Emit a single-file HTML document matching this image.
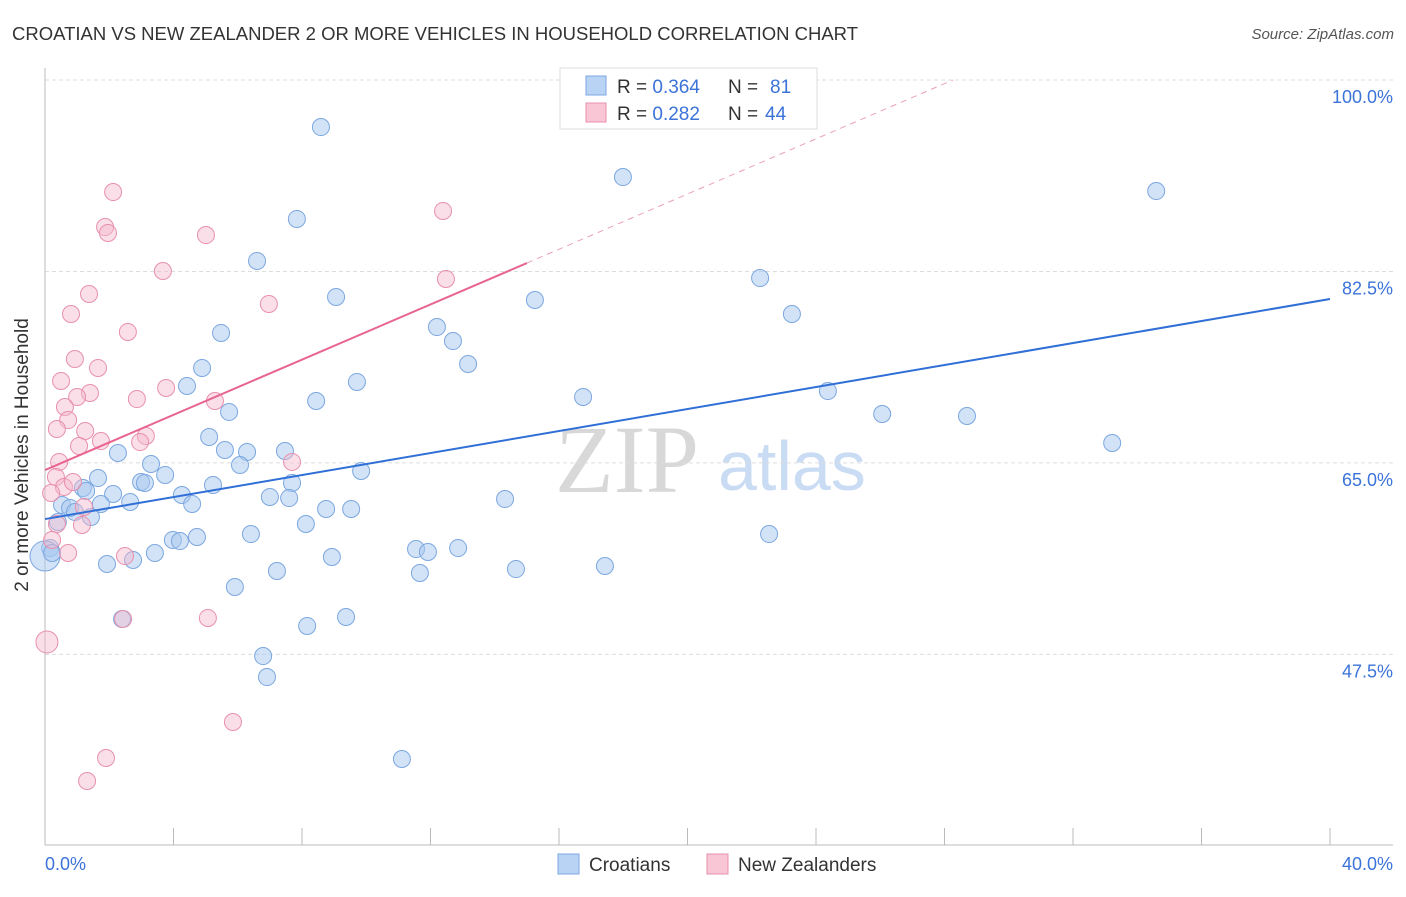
<!DOCTYPE html>
<html><head><meta charset="utf-8"><style>
body{margin:0;background:#fff;font-family:"Liberation Sans",sans-serif;}
</style></head><body>
<svg id="c" width="1406" height="892" xmlns="http://www.w3.org/2000/svg">
<text x="12" y="40" font-size="18.5" fill="#333">CROATIAN VS NEW ZEALANDER 2 OR MORE VEHICLES IN HOUSEHOLD CORRELATION CHART</text>
<text x="1394" y="39" font-size="15" fill="#555" font-style="italic" text-anchor="end">Source: ZipAtlas.com</text>
<text x="555" y="492" font-size="96" font-family="Liberation Serif,serif" fill="#d8d8d8">ZIP</text>
<text x="718" y="490" font-size="70" fill="#c9dcf3">atlas</text>
<g id="grid"></g><g id="axes"></g><g id="pts"></g><g id="lines"></g>
<text x="28" y="455" font-size="19" fill="#333" text-anchor="middle" transform="rotate(-90 28 455)">2 or more Vehicles in Household</text>
<text x="45" y="870" font-size="18" fill="#3b73d9">0.0%</text>
<text x="1393" y="870" font-size="18" fill="#3b73d9" text-anchor="end">40.0%</text>
<g>
<rect x="560" y="68" width="257" height="61" fill="#fff" stroke="#ddd"/>
<rect x="586" y="76" width="20" height="19" fill="#b9d3f5" stroke="#7ba7e0"/>
<rect x="586" y="103" width="20" height="19" fill="#f9c6d6" stroke="#e890ad"/>
<text x="617" y="93" font-size="19" fill="#333">R = <tspan fill="#3b73d9">0.364</tspan><tspan x="728">N = </tspan><tspan fill="#3b73d9" x="770">81</tspan></text>
<text x="617" y="120" font-size="19" fill="#333">R = <tspan fill="#3b73d9">0.282</tspan><tspan x="728">N = </tspan><tspan fill="#3b73d9" x="765">44</tspan></text>
</g>
<g>
<rect x="558" y="854" width="21" height="20" fill="#b9d3f5" stroke="#7ba7e0"/>
<text x="589" y="871" font-size="19" fill="#333">Croatians</text>
<rect x="707" y="854" width="21" height="20" fill="#f9c6d6" stroke="#e890ad"/>
<text x="738" y="871" font-size="19" fill="#333">New Zealanders</text>
</g>
</svg>
<script>
const blueX=[8.59,17.99,34.59,7.84,6.60,22.26,9.06,15.25,23.25,5.48,12.20,12.70,13.17,4.89,9.71,4.42,16.75,24.37,8.44,5.73,26.06,28.70,5.11,33.22,2.27,5.60,6.29,7.47,3.30,6.07,9.84,3.74,1.65,2.99,3.11,1.18,1.28,5.23,7.69,2.12,4.26,7.00,7.60,2.65,1.74,4.58,14.32,0.53,0.78,0.93,8.75,9.53,1.43,0.40,8.12,3.98,4.73,6.41,22.54,4.20,3.42,11.55,12.86,11.92,8.93,2.74,1.93,7.22,14.66,11.67,17.43,5.91,2.40,9.37,8.16,6.79,6.91,11.11,0.16,0.0,0.22];
const blueY=[95.70,91.13,89.85,87.30,83.46,81.90,80.17,79.89,78.61,76.88,77.42,76.14,74.04,73.68,72.40,72.03,71.03,71.57,70.66,69.66,69.47,69.29,67.37,66.82,65.91,66.18,66.00,66.09,64.90,64.81,64.26,63.90,63.62,63.26,63.17,62.71,62.43,62.98,63.17,62.16,62.07,61.89,61.79,61.43,61.25,61.25,61.70,61.16,60.88,60.52,60.79,60.79,60.06,59.60,59.42,57.96,58.23,58.50,58.50,57.86,56.77,57.13,57.22,56.86,56.40,56.13,55.76,55.12,55.30,54.94,55.58,53.66,50.74,50.92,50.10,47.35,45.43,37.94,57.22,56.49,56.77];
const pinkX=[2.12,1.87,1.96,5.01,12.39,3.67,12.48,1.37,6.97,0.81,2.58,0.93,1.65,0.50,1.40,1.00,2.86,3.77,5.29,0.62,0.72,1.74,0.37,3.14,2.96,1.25,1.06,0.44,7.69,0.34,0.59,0.87,0.19,1.21,0.37,1.15,0.72,2.49,0.22,2.43,5.07,0.06,5.85,1.90,1.31];
const pinkY=[89.76,86.56,86.02,85.83,88.03,82.54,81.81,80.44,79.53,78.61,76.97,74.50,73.68,72.49,71.39,71.03,70.84,71.85,70.66,70.11,68.92,67.00,68.10,67.46,66.91,67.92,66.55,65.09,65.09,63.71,62.80,63.26,62.25,60.97,59.42,59.33,56.77,56.49,57.96,50.74,50.83,48.63,41.32,38.03,35.93];
const blueLine=[59.87,79.98];
const pinkLine=[64.35,1.2613];
const yTicks=[100,82.5,65,47.5];
const yTickLabels=["100.0%","82.5%","65.0%","47.5%"];
const NS="http://www.w3.org/2000/svg";
const sx=v=>45+v*(1285/40), sy=v=>80+(100-v)*(1/0.0914);
function mk(t,a,p){const e=document.createElementNS(NS,t);for(const k in a)e.setAttribute(k,a[k]);document.getElementById(p).appendChild(e);return e;}
yTicks.forEach((t,i)=>{
 const l=mk('line',{x1:45,x2:1393,y1:sy(t),y2:sy(t),stroke:'#ddd','stroke-dasharray':'4,3'},'grid');
 
 
 const tx=mk('text',{x:1393,y:sy(t)+23,'font-size':18,fill:'#3b73d9','text-anchor':'end'},'grid');
 tx.textContent=yTickLabels[i];
 
 
});
const ax=mk('line',{x1:45,x2:45,y1:68,y2:845,stroke:'#bbb'},'axes');


const bx=mk('line',{x1:45,x2:1393,y1:845,y2:845,stroke:'#bbb'},'axes');


for(let i=0;i<=10;i++){const t=mk('line',{x1:sx(i*4),x2:sx(i*4),y1:828,y2:845,stroke:'#bbb'},'axes');
 
 }
blueX.forEach((x,i)=>{const big=(x===0);
 const c=mk('circle',{cx:sx(x),cy:sy(blueY[i]),r:big?15:8.5,fill:'rgba(168,200,240,0.5)',stroke:'#7ba7e0','stroke-width':1},'pts');
 
 });
pinkX.forEach((x,i)=>{const big=(i===41);
 const c=mk('circle',{cx:sx(x),cy:sy(pinkY[i]),r:big?11:8.5,fill:'rgba(244,184,204,0.45)',stroke:'#e890ad','stroke-width':1},'pts');
 
 });
const bl=mk('line',{x1:sx(0),y1:sy(blueLine[0]),x2:sx(40),y2:sy(blueLine[1]),stroke:'#2f6fd6','stroke-width':2},'lines');


const pEnd=15, pDash=(100-pinkLine[0])/pinkLine[1];
const pl=mk('line',{x1:sx(0),y1:sy(pinkLine[0]),x2:sx(pEnd),y2:sy(pinkLine[0]+pinkLine[1]*pEnd),stroke:'#e8658f','stroke-width':2},'lines');


const pd=mk('line',{x1:sx(pEnd),y1:sy(pinkLine[0]+pinkLine[1]*pEnd),x2:sx(pDash),y2:sy(100),stroke:'#eaa0b8','stroke-width':1,'stroke-dasharray':'6,5'},'lines');


</script>
</body></html>
